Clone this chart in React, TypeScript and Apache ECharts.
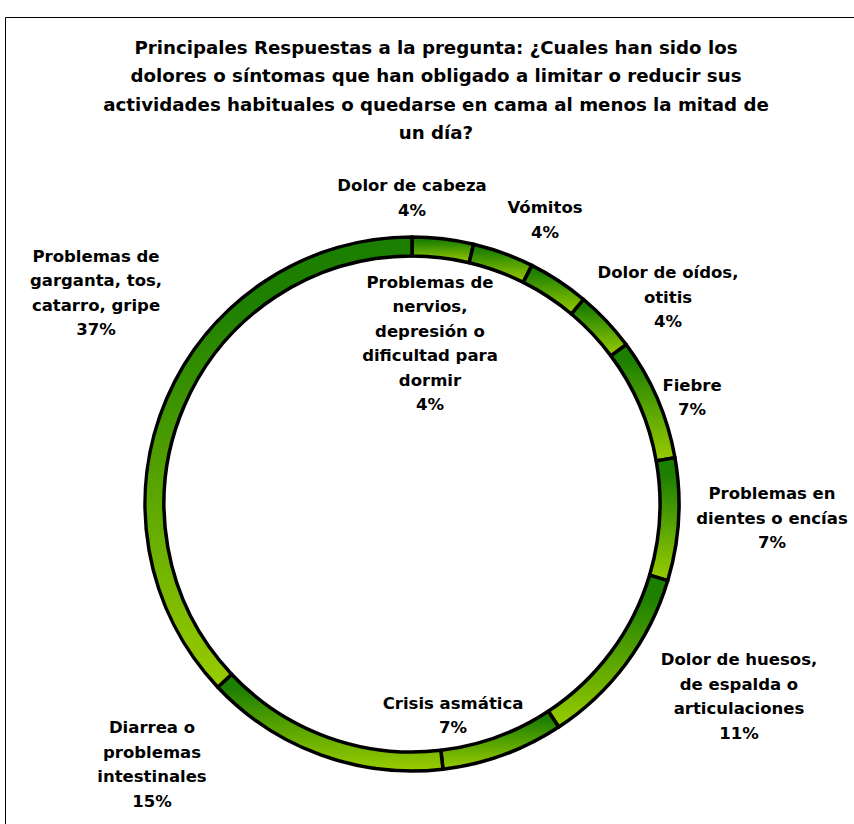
import React, { useEffect, useRef } from "react";
import * as echarts from "echarts";

const titleText =
  "Principales Respuestas a la pregunta: ¿Cuales han sido los\n" +
  "dolores o síntomas que han obligado a limitar o reducir sus\n" +
  "actividades habituales o quedarse en cama al menos la mitad de\n" +
  "un día?";

const categories = [
  "Problemas de\nnervios,\ndepresión o\ndificultad para\ndormir",
  "Dolor de cabeza",
  "Vómitos",
  "Dolor de oídos,\notitis",
  "Fiebre",
  "Problemas en\ndientes o encías",
  "Dolor de huesos,\nde espalda o\narticulaciones",
  "Crisis asmática",
  "Diarrea o\nproblemas\nintestinales",
  "Problemas de\ngarganta, tos,\ncatarro, gripe",
];

const counts = [1, 1, 1, 1, 2, 2, 3, 2, 4, 10];

// label block centres (layout only)
const labelPos: [number, number][] = [
  [430, 343.5],
  [412, 198],
  [545, 220],
  [668, 297],
  [692, 397.5],
  [772, 518],
  [739, 696.5],
  [453, 715.5],
  [152, 764.5],
  [96, 293],
];

const FONT = "DejaVu Sans";

export default function App() {
  const ref = useRef<HTMLDivElement>(null);
  useEffect(() => {
    if (!ref.current) return;
    const chart = echarts.init(ref.current, undefined, { renderer: "svg" });
    const grad = {
      type: "linear",
      x: 0,
      y: 0,
      x2: 0,
      y2: 1,
      colorStops: [
        { offset: 0, color: "#1A7E00" },
        { offset: 0.15, color: "#1E8000" },
        { offset: 1, color: "#99CC00" },
      ],
    };
    chart.setOption({
      animation: false,
      backgroundColor: "#ffffff",
      graphic: [
        {
          type: "polyline",
          shape: { points: [[5.5, 824], [5.5, 17.5], [854, 17.5]] },
          style: { stroke: "#000", lineWidth: 1, fill: null },
          silent: true,
        },
        {
          type: "text",
          x: 436,
          y: 33,
          style: {
            text: titleText,
            textAlign: "center",
            textVerticalAlign: "top",
            fontFamily: FONT,
            fontWeight: "bold",
            fontSize: 18.2,
            lineHeight: 28.5,
            fill: "#000",
          },
          silent: true,
        },
      ],
      series: [
        {
          type: "pie",
          center: [412, 504],
          radius: [248, 267],
          startAngle: 90,
          clockwise: true,
          avoidLabelOverlap: false,
          percentPrecision: 0,
          silent: true,
          itemStyle: { color: grad, borderColor: "#000", borderWidth: 3.5 },
          label: {
            show: true,
            position: "outside",
            formatter: "{b}\n{d}%",
            color: "#000",
            fontFamily: FONT,
            fontWeight: "bold",
            fontSize: 16.5,
            lineHeight: 24.5,
            align: "center",
          },
          labelLine: { show: false },
          labelLayout: (params: any) => {
            const p = labelPos[params.dataIndex];
            return { x: p[0], y: p[1], align: "center", verticalAlign: "middle" };
          },
          emphasis: { disabled: true },
          data: categories.map((c, i) => ({ name: c, value: counts[i] })),
        },
      ],
    });
    return () => chart.dispose();
  }, []);
  return (
    <div
      ref={ref}
      style={{ position: "absolute", left: 0, top: 0, width: 854, height: 824 }}
    />
  );
}
